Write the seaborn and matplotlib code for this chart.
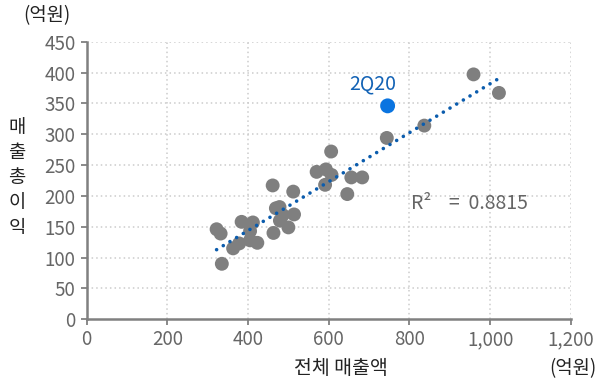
import matplotlib
matplotlib.use("Agg")
import matplotlib.pyplot as plt
import seaborn as sns
import pandas as pd

# Total sales (억원) vs. gross profit (억원) per quarter
sales = [322, 332, 335, 363, 378, 384, 405, 405, 412, 423,
         461, 463, 469, 478, 486, 479, 500, 512, 514, 570,
         593, 606, 607, 591, 646, 656, 683, 744, 837, 959, 1022]
gross_profit = [146, 139, 90, 115, 123, 158, 143, 128, 157, 124,
                217, 140, 180, 182, 169, 160, 149, 207, 170, 239,
                243, 272, 234, 218, 203, 230, 230, 294, 314, 397, 367]

highlight_label = "2Q20"
highlight_sales = [746]
highlight_profit = [346]

r2_text = "R\u00b2    =  0.8815"
x_ticks = [0, 200, 400, 600, 800, 1000, 1200]
x_tick_labels = ["0", "200", "400", "600", "800", "1,000", "1,200"]
y_ticks = [0, 50, 100, 150, 200, 250, 300, 350, 400, 450]

df = pd.DataFrame({"sales": sales, "profit": gross_profit})
hl = pd.DataFrame({"sales": highlight_sales, "profit": highlight_profit})

sns.set_theme(style="white")
plt.rcParams["font.family"] = ["Noto Sans CJK KR", "DejaVu Sans"]

fig = plt.figure(figsize=(6.03, 3.85), dpi=100)
ax = fig.add_axes([0.1438, 0.1706, 0.8027, 0.7211])

axis_gray = "#808080"
text_gray = "#666666"

# grid
for xv in x_ticks[1:]:
    ax.axvline(xv, color="#cccccc", lw=1.1, ls=(0, (1, 2)), zorder=0)
for yv in y_ticks[1:]:
    ax.axhline(yv, color="#cccccc", lw=1.1, ls=(0, (1, 2)), zorder=0)

sns.scatterplot(data=df, x="sales", y="profit", ax=ax, s=100,
                color="#7f7f7f", edgecolor="none", zorder=3, legend=False)

# linear trend line
sns.regplot(data=df, x="sales", y="profit", ax=ax, scatter=False, ci=None,
            line_kws={"color": "#0b5cad", "lw": 2.6,
                      "ls": (0, (0.01, 2.15)), "dash_capstyle": "round",
                      "zorder": 4})

sns.scatterplot(data=hl, x="sales", y="profit", ax=ax, s=115,
                color="#0a74e0", edgecolor="none", zorder=5, legend=False)
ax.text(710, 382, highlight_label, color="#1262b5", fontsize=14,
        ha="center", va="center")

ax.text(805, 188, r2_text, color=text_gray, fontsize=14,
        ha="left", va="center")

ax.set_xlim(0, 1200)
ax.set_ylim(0, 450)
ax.set_xticks(x_ticks)
ax.set_xticklabels(x_tick_labels)
ax.set_yticks(y_ticks)
ax.set_xlabel("")
ax.set_ylabel("")

for side in ["top", "right"]:
    ax.spines[side].set_visible(False)
for side in ["left", "bottom"]:
    ax.spines[side].set_color(axis_gray)
    ax.spines[side].set_linewidth(1.8)

ax.tick_params(axis="both", which="major", length=4, width=1.3,
               color=axis_gray, labelcolor=text_gray, labelsize=13.5,
               direction="out", left=True, bottom=True)
ax.tick_params(axis="x", pad=3)
ax.tick_params(axis="y", pad=4)

# unit and axis titles
fig.text(47 / 603, 1 - 16 / 385, "(억원)", ha="center", va="center",
         fontsize=13.5, color="#222222")
fig.text(17 / 603, 1 - 178 / 385, "매\n출\n총\n이\n익", ha="center",
         va="center", fontsize=13.5, color="#222222", linespacing=1.25)
fig.text(341 / 603, 1 - 369 / 385, "전체 매출액", ha="center", va="center",
         fontsize=14, color="#222222")
fig.text(573 / 603, 1 - 369 / 385, "(억원)", ha="center", va="center",
         fontsize=13.5, color="#222222")

fig.savefig("out.png", dpi=100)
